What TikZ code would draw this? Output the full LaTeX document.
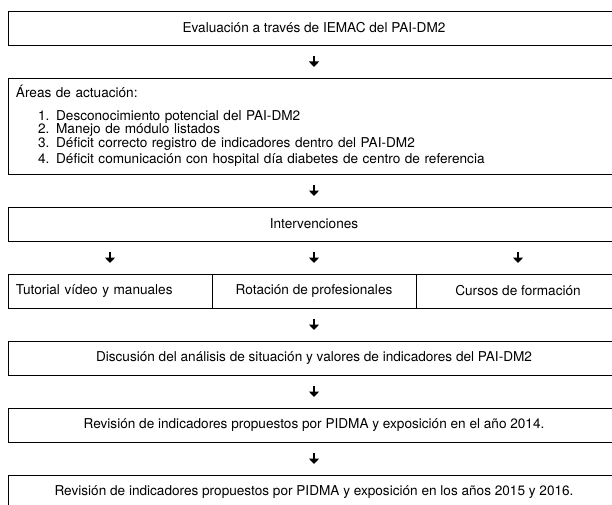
\documentclass[tikz,border=0pt]{standalone}
\usepackage{fontspec}
\setmainfont{TeX Gyre Heros}
\usetikzlibrary{positioning,arrows.meta}

\begin{document}
\begin{tikzpicture}[node distance={33pt}, font=\fontsize{13.6}{16}\selectfont,
    main/.style = {draw, line width=0.8pt, outer sep=0pt, minimum width=612pt, minimum height=34pt},
    cell/.style = {draw, line width=0.8pt, outer sep=0pt, minimum width=204pt, minimum height=34pt},
    arr/.style = {line width=2.3pt, -{Triangle[length=5.5pt,width=10pt]}, shorten <=11pt, shorten >=11pt}]
    \useasboundingbox (0,0) rectangle (612pt,-505pt);

    \node[main] (1) at (314pt,-28pt) {Evaluación a través de IEMAC del PAI-DM2};
    \node[main, minimum height=96pt, text width=596pt, align=left] (2) [below=of 1] {Áreas de actuación:\\[9pt]
      \fontsize{13.6}{13.5}\selectfont
      \hspace*{22pt}1. Desconocimiento potencial del PAI-DM2\\
      \hspace*{22pt}2. Manejo de módulo listados\\
      \hspace*{22pt}3. Déficit correcto registro de indicadores dentro del PAI-DM2\\
      \hspace*{22pt}4. Déficit comunicación con hospital día diabetes de centro de referencia};
    \path[arr] (1) edge (2);

    \node[main] (3) [below=of 2] {Intervenciones};
    \path[arr] (2) edge (3);

    \node[cell] (4) [below=of 3] {Rotación de profesionales};
    \node[cell, text width=188pt, align=left] (5) [left=0pt of 4] {Tutorial vídeo y manuales};
    \node[cell] (6) [right=0pt of 4] {Cursos de formación};
    \draw[arr] (5 |- 3.south) -- (5);
    \draw[arr] (3) -- (4);
    \draw[arr] (6 |- 3.south) -- (6);

    \node[main] (7) [below=of 4] {Discusión del análisis de situación y valores de indicadores del PAI-DM2};
    \path[arr] (4) edge (7);

    \node[main] (8) [below=of 7] {Revisión de indicadores propuestos por PIDMA y exposición en el año 2014.};
    \path[arr] (7) edge (8);

    \node[main] (9) [below=of 8] {Revisión de indicadores propuestos por PIDMA y exposición en los años 2015 y 2016.};
    \path[arr] (8) edge (9);
\end{tikzpicture}
\end{document}
